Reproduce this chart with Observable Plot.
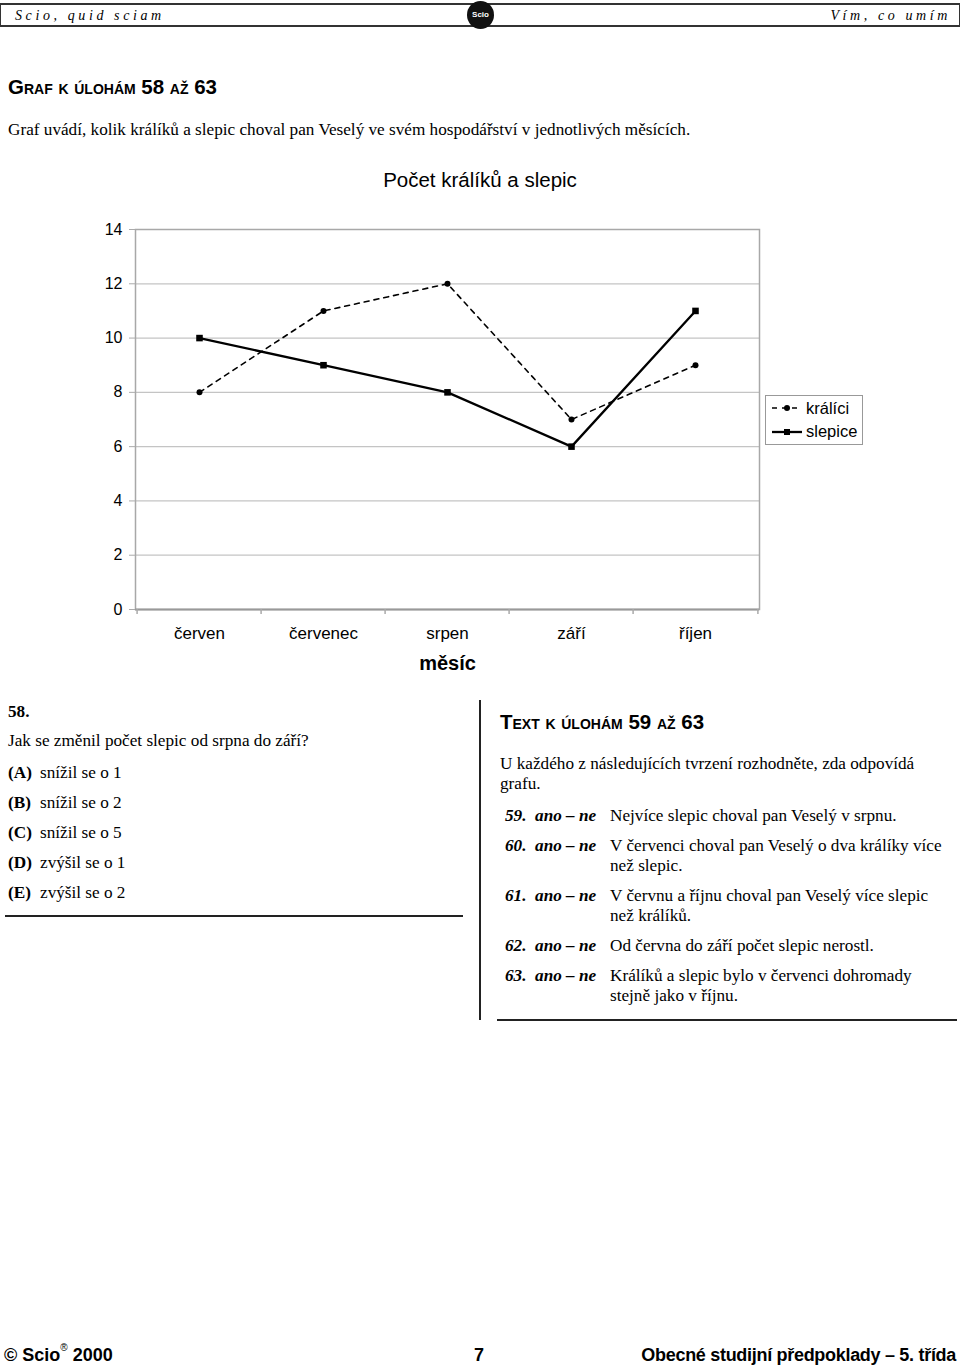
<!DOCTYPE html>
<html><head><meta charset="utf-8">
<script src="https://cdn.jsdelivr.net/npm/d3@7"></script>
<script src="https://cdn.jsdelivr.net/npm/@observablehq/plot@0.6"></script>
<style>
html,body{margin:0;padding:0;background:#fff;}
body{width:960px;height:1367px;position:relative;overflow:hidden;font-family:"Liberation Serif","Times New Roman",serif;color:#000;}
.abs{position:absolute;white-space:nowrap;}
.serif{font-family:"Liberation Serif","Times New Roman",serif;font-size:17.2px;}
.sans{font-family:"Liberation Sans",Arial,sans-serif;}
.hd{font-family:"Liberation Sans",Arial,sans-serif;font-weight:bold;font-variant:small-caps;font-size:20.5px;letter-spacing:0px;}
#header{position:absolute;left:0;top:3px;width:958px;height:20px;border:1px solid #333;border-top:2px solid #333;border-bottom:2px solid #333;}
.hdrtxt{font-family:"Liberation Serif",serif;font-style:italic;font-size:14px;letter-spacing:3.6px;top:3px;}
#logo{position:absolute;left:467px;top:1px;width:27px;height:28px;border-radius:50%;background:#111;color:#fff;font-family:"Liberation Sans",Arial,sans-serif;font-weight:bold;font-size:8px;text-align:center;line-height:28px;z-index:2;}
#chart{position:absolute;left:0;top:150px;z-index:0;}
#title{z-index:2;}
#legend{position:absolute;left:765px;top:395px;width:96px;height:48px;border:1px solid #999;background:#fff;font-family:"Liberation Sans",Arial,sans-serif;font-size:16.5px;z-index:2;}
.opt b{display:inline-block;width:32px;}
.item .n{position:absolute;left:505px;font-weight:bold;font-style:italic;}
.item .t{position:absolute;left:610px;line-height:20px;}
</style></head>
<body>
<div id="header">
  <div class="abs hdrtxt" style="left:14px;">Scio, quid sciam</div>
  <div class="abs hdrtxt" style="right:8px;">Vím, co umím</div>
</div>
<div id="logo">Scio</div>

<div class="abs hd" style="left:8px;top:75px;">Graf k úlohám 58 až 63</div>
<div class="abs serif" style="left:8px;top:120px;">Graf uvádí, kolik králíků a slepic choval pan Veselý ve svém hospodářství v jednotlivých měsících.</div>

<div id="chart"></div>
<div id="title" class="abs sans" style="left:0;width:960px;text-align:center;top:168px;font-size:20.5px;">Počet králíků a slepic</div>

<div id="legend">
  <svg width="96" height="48" style="position:absolute;left:0;top:0;">
    <line x1="6" y1="12" x2="36" y2="12" stroke="#000" stroke-width="1.6" stroke-dasharray="5,5"/>
    <circle cx="21" cy="12" r="3" fill="#000"/>
    <line x1="6" y1="36" x2="36" y2="36" stroke="#000" stroke-width="2.3"/>
    <rect x="18" y="33" width="6" height="6" fill="#000"/>
  </svg>
  <div class="abs" style="left:40px;top:3px;">králíci</div>
  <div class="abs" style="left:40px;top:26px;">slepice</div>
</div>

<!-- left column -->
<div class="abs serif" style="left:8px;top:702px;font-weight:bold;">58.</div>
<div class="abs serif" style="left:8px;top:731px;">Jak se změnil počet slepic od srpna do září?</div>
<div class="abs serif opt" style="left:8px;top:763px;"><b>(A)</b>snížil se o 1</div>
<div class="abs serif opt" style="left:8px;top:793px;"><b>(B)</b>snížil se o 2</div>
<div class="abs serif opt" style="left:8px;top:823px;"><b>(C)</b>snížil se o 5</div>
<div class="abs serif opt" style="left:8px;top:853px;"><b>(D)</b>zvýšil se o 1</div>
<div class="abs serif opt" style="left:8px;top:883px;"><b>(E)</b>zvýšil se o 2</div>
<div class="abs" style="left:5px;top:915px;width:458px;height:0;border-top:2px solid #222;"></div>
<div class="abs" style="left:479px;top:700px;width:0;height:320px;border-left:2px solid #222;"></div>

<!-- right column -->
<div class="abs hd" style="left:500px;top:710px;">Text k úlohám 59 až 63</div>
<div class="abs serif" style="left:500px;top:754px;line-height:20px;">U každého z následujících tvrzení rozhodněte, zda odpovídá<br>grafu.</div>
<div class="serif item"><div class="abs n" style="top:806px;">59.&nbsp; ano – ne</div><div class="abs t" style="top:806px;">Nejvíce slepic choval pan Veselý v srpnu.</div></div>
<div class="serif item"><div class="abs n" style="top:836px;">60.&nbsp; ano – ne</div><div class="abs t" style="top:836px;">V červenci choval pan Veselý o dva králíky více<br>než slepic.</div></div>
<div class="serif item"><div class="abs n" style="top:886px;">61.&nbsp; ano – ne</div><div class="abs t" style="top:886px;">V červnu a říjnu choval pan Veselý více slepic<br>než králíků.</div></div>
<div class="serif item"><div class="abs n" style="top:936px;">62.&nbsp; ano – ne</div><div class="abs t" style="top:936px;">Od června do září počet slepic nerostl.</div></div>
<div class="serif item"><div class="abs n" style="top:966px;">63.&nbsp; ano – ne</div><div class="abs t" style="top:966px;">Králíků a slepic bylo v červenci dohromady<br>stejně jako v říjnu.</div></div>
<div class="abs" style="left:497px;top:1019px;width:460px;height:0;border-top:2px solid #222;"></div>

<!-- footer -->
<div class="abs sans" style="left:4px;top:1345px;font-weight:bold;font-size:18px;">© Scio<sup style="font-size:10px;font-weight:normal;position:relative;top:-3px;">®</sup> 2000</div>
<div class="abs sans" style="left:474px;top:1345px;font-weight:bold;font-size:18px;">7</div>
<div class="abs sans" style="right:4px;top:1345px;font-weight:bold;font-size:18px;letter-spacing:-0.3px;">Obecné studijní předpoklady – 5. třída</div>

<script>
const months = ["červen", "červenec", "srpen", "září", "říjen"];
const kralici = [8, 11, 12, 7, 9];
const slepice = [10, 9, 8, 6, 11];
const yTicks = [0, 2, 4, 6, 8, 10, 12, 14];

const dataK = months.map((m, i) => ({month: m, value: kralici[i]}));
const dataS = months.map((m, i) => ({month: m, value: slepice[i]}));

const W = 960, H = 530, mL = 135, mR = 201, mT = 79, mB = 71;
const step = (W - mL - mR) / months.length;

const chart = Plot.plot({
  width: W, height: H,
  marginLeft: mL, marginRight: mR, marginTop: mT, marginBottom: mB,
  style: {fontFamily: "'Liberation Sans', Arial, sans-serif", fontSize: "16px", color: "#000", background: "transparent"},
  x: {type: "point", domain: months, padding: 0.5, label: null},
  y: {domain: [0, 14], label: null},
  marks: [
    Plot.ruleY(yTicks, {stroke: "#c4c4c4", strokeWidth: 1.2}),
    Plot.frame({stroke: "#a8a8a8", strokeWidth: 1.5}),
    Plot.ruleY([0], {stroke: "#999", strokeWidth: 2}),
    Plot.ruleX(months, {y1: 0, y2: 0, dx: -step / 2, insetBottom: -5, stroke: "#aaa", strokeWidth: 1.5}),
    Plot.ruleX(months.slice(-1), {y1: 0, y2: 0, dx: step / 2, insetBottom: -5, stroke: "#aaa", strokeWidth: 1.5}),
    Plot.axisY({ticks: yTicks, tickSize: 6, tickPadding: 7, stroke: "#aaa", label: null, tickFormat: d => d}),
    Plot.axisX({tickSize: 0, tickPadding: 17, fontSize: 17, label: null}),
    Plot.text(["měsíc"], {frameAnchor: "bottom", dy: 54, fontWeight: "bold", fontSize: 20, lineAnchor: "middle"}),
    Plot.line(dataK, {x: "month", y: "value", stroke: "#000", strokeWidth: 1.6, strokeDasharray: "5,5"}),
    Plot.dot(dataK, {x: "month", y: "value", r: 3, fill: "#000"}),
    Plot.line(dataS, {x: "month", y: "value", stroke: "#000", strokeWidth: 2.3}),
    Plot.dot(dataS, {x: "month", y: "value", r: 3.7, symbol: "square", fill: "#000"})
  ]
});
document.getElementById("chart").appendChild(chart);
</script>
</body></html>
